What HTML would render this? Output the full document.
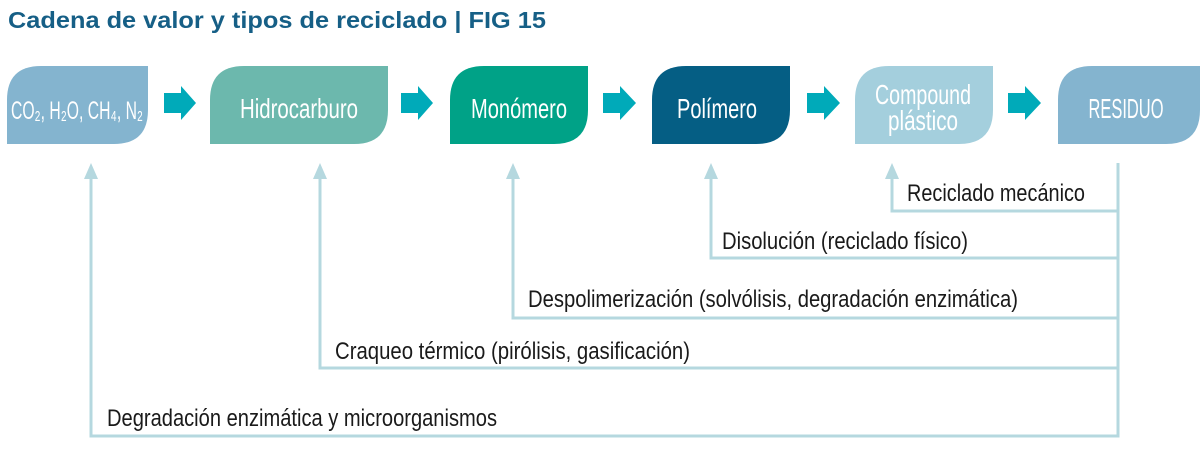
<!DOCTYPE html>
<html><head><meta charset="utf-8"><style>
html,body{margin:0;padding:0;background:#fff;}
svg{display:block;}
</style></head><body>
<svg width="1200" height="450" viewBox="0 0 1200 450" xmlns="http://www.w3.org/2000/svg">
<text x="8" y="28" font-family="Liberation Sans, sans-serif" font-weight="bold" font-size="23" fill="#165f86" textLength="538" lengthAdjust="spacingAndGlyphs">Cadena de valor y tipos de reciclado  |  FIG 15</text>
<g font-family="Liberation Sans, sans-serif" fill="#fff" font-size="28" text-anchor="middle">
<path d="M7,144 V100 Q7,66 41,66 H148 V110 Q148,144 114,144 Z" fill="#84b4cf"/>
<text x="77" y="119" textLength="132" lengthAdjust="spacingAndGlyphs" font-size="25">CO₂, H₂O, CH₄, N₂</text>
<path d="M210,144 V100 Q210,66 244,66 H388 V110 Q388,144 354,144 Z" fill="#6cb8ad"/>
<text x="299" y="118" textLength="118" lengthAdjust="spacingAndGlyphs">Hidrocarburo</text>
<path d="M450,144 V100 Q450,66 484,66 H588 V110 Q588,144 554,144 Z" fill="#00a287"/>
<text x="519" y="118" textLength="96" lengthAdjust="spacingAndGlyphs">Monómero</text>
<path d="M652,144 V100 Q652,66 686,66 H790 V110 Q790,144 756,144 Z" fill="#055e84"/>
<text x="717" y="118" textLength="80" lengthAdjust="spacingAndGlyphs">Polímero</text>
<path d="M855,144 V100 Q855,66 889,66 H993 V110 Q993,144 959,144 Z" fill="#a4cfdd"/>
<text x="923" y="104" textLength="96" lengthAdjust="spacingAndGlyphs">Compound</text>
<text x="923" y="130" textLength="70" lengthAdjust="spacingAndGlyphs">plástico</text>
<path d="M1058,144 V100 Q1058,66 1092,66 H1200 V110 Q1200,144 1166,144 Z" fill="#84b4cf"/>
<text x="1126" y="118" textLength="75" lengthAdjust="spacingAndGlyphs">RESIDUO</text>
</g>
<g fill="#00aab9">
<path d="M164,93 H181 V86 L196,103 L181,120 V113 H164 Z"/>
<path d="M401,93 H418 V86 L433,103 L418,120 V113 H401 Z"/>
<path d="M603,93 H620 V86 L636,103 L620,120 V113 H603 Z"/>
<path d="M807,93 H824 V86 L840,103 L824,120 V113 H807 Z"/>
<path d="M1008,93 H1025 V86 L1041,103 L1025,120 V113 H1008 Z"/>
</g>
<g stroke="#b5d8df" stroke-width="3" fill="none">
<path d="M1118,163 V436 H91 V175"/>
<path d="M1118,368 H320 V175"/>
<path d="M1118,318 H513 V175"/>
<path d="M1118,258 H711 V175"/>
<path d="M1118,211 H892 V175"/>
</g>
<g fill="#b5d8df">
<path d="M84,179 L91,163 L98,179 Z"/>
<path d="M313,179 L320,163 L327,179 Z"/>
<path d="M506,179 L513,163 L520,179 Z"/>
<path d="M704,179 L711,163 L718,179 Z"/>
<path d="M885,179 L892,163 L899,179 Z"/>
</g>
<g font-family="Liberation Sans, sans-serif" font-size="24" fill="#1a1a1a">
<text x="907" y="201" textLength="178" lengthAdjust="spacingAndGlyphs">Reciclado mecánico</text>
<text x="722" y="249" textLength="246" lengthAdjust="spacingAndGlyphs">Disolución (reciclado físico)</text>
<text x="528" y="307" textLength="490" lengthAdjust="spacingAndGlyphs">Despolimerización (solvólisis, degradación enzimática)</text>
<text x="335" y="359" textLength="355" lengthAdjust="spacingAndGlyphs">Craqueo térmico (pirólisis, gasificación)</text>
<text x="107" y="426" textLength="390" lengthAdjust="spacingAndGlyphs">Degradación enzimática y microorganismos</text>
</g>
</svg>
</body></html>
